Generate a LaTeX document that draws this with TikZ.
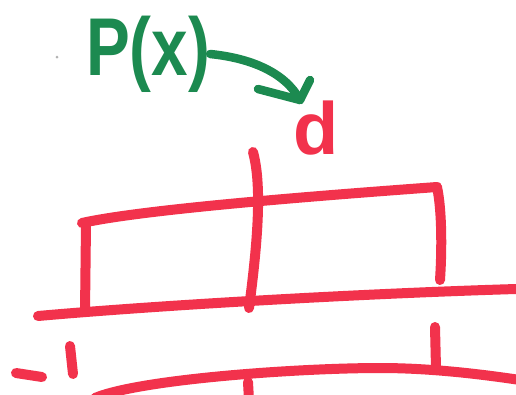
\documentclass[tikz,border=0pt]{standalone}
\usepackage{fontspec}
\setmainfont{Liberation Sans}
\definecolor{mred}{RGB}{242,50,76}
\definecolor{mgreen}{RGB}{28,138,80}
\begin{document}
\begin{tikzpicture}[x=1pt,y=-1pt,
  redstroke/.style={draw=mred, line width=10pt, line cap=round, line join=round},
  greenstroke/.style={draw=mgreen, line width=8.5pt, line cap=round, line join=round},
  label/.style={inner sep=0pt, font=\bfseries\fontsize{82}{82}\selectfont}]
\useasboundingbox (0,0) rectangle (516,394);
\fill[white] (0,0) rectangle (516,394);
\fill[gray!60] (57,57) circle (1.5);
% labels
\node[label, text=mgreen, xscale=0.8] (px) at (148,54) {P(x)};
\node[label, text=mred, font=\bfseries\fontsize{74}{74}\selectfont] (dnode) at (316,128) {d};
% green arrow
\coordinate (tip) at (300,100);
\draw[greenstroke] (px.east) .. controls (250,58) and (285,72) .. (tip);
\draw[greenstroke] (tip) -- ++(-42,-11);
\draw[greenstroke] (tip) -- ++(10,-20);
% upper box
\draw[redstroke] (82,223) .. controls (140,210) and (300,197) .. (437,187);
\draw[redstroke] (86,224) -- (85,312);
\draw[redstroke] (253,152) .. controls (262,185) and (258,240) .. (249,308);
\draw[redstroke] (437,187) .. controls (442,210) and (442,250) .. (440,280);
% long base line
\draw[redstroke] (38,316) .. controls (150,306) and (350,294) .. (516,289);
% lower part
\draw[redstroke] (16,373) -- (42,377);
\draw[redstroke] (70,346) -- (73,374);
\draw[redstroke] (435,327) -- (436,368);
\draw[redstroke] (95,398) .. controls (140,379) and (300,368) .. (380,368) .. controls (430,368) and (480,374) .. (520,380);
\draw[redstroke] (248,382) -- (249,400);
\end{tikzpicture}
\end{document}
